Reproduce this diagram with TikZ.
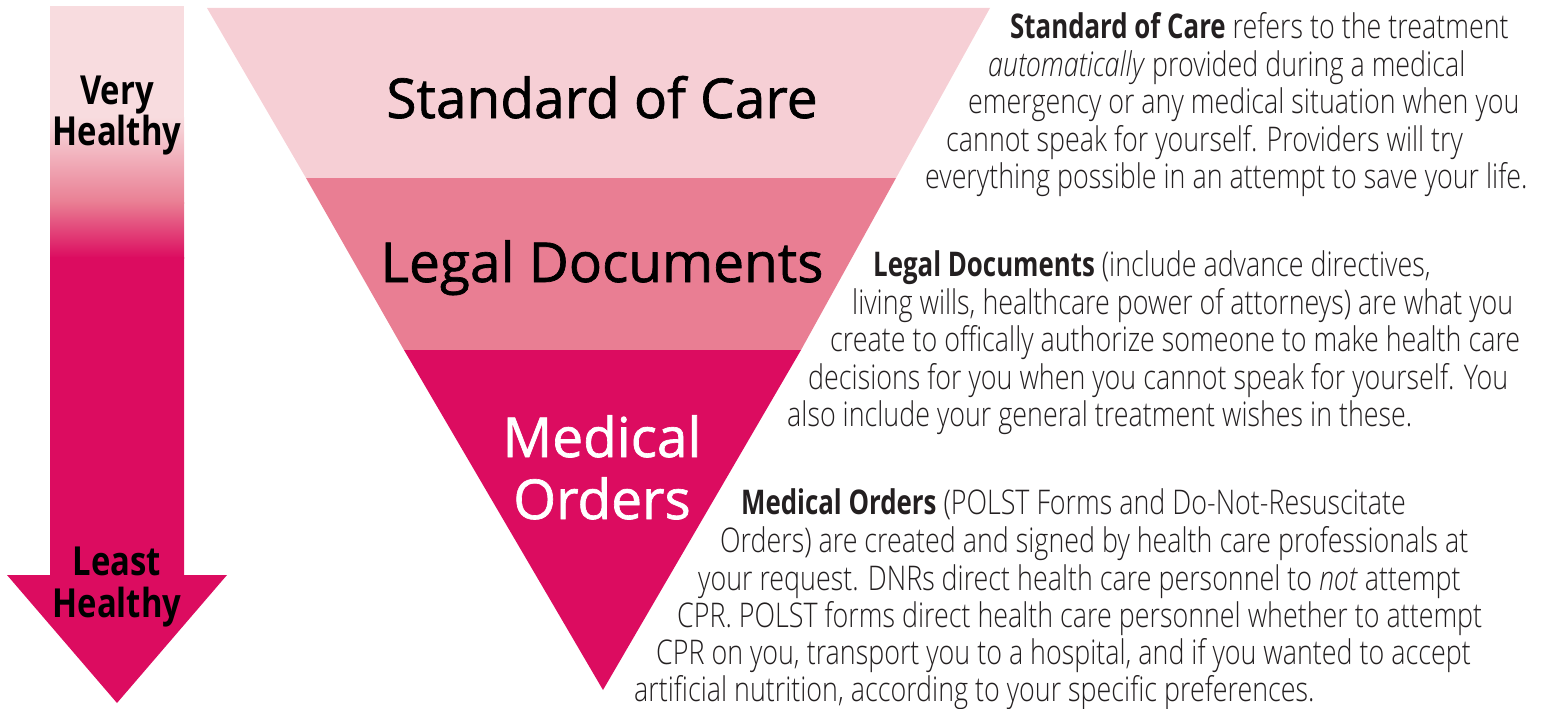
\documentclass[tikz,border=0pt]{standalone}
\usepackage{fontspec}
\setmainfont{Open Sans}
\newfontfamily\descfont[FakeStretch=0.79,BoldFont={Open Sans Bold},BoldFeatures={FakeStretch=0.76},ItalicFont={Open Sans Light Italic}]{Open Sans Light}
\newfontfamily\armfont[FakeStretch=0.82]{Open Sans}
\newfontfamily\bandfont[FakeBold=1.2]{Open Sans}
\definecolor{bandlight}{RGB}{246,207,213}
\definecolor{bandmid}{RGB}{233,126,147}
\definecolor{banddark}{RGB}{220,12,96}
\definecolor{arrowlight}{RGB}{248,220,223}
\definecolor{desctext}{RGB}{35,31,32}
\tikzset{
  descline/.style={anchor=base west,inner sep=0pt,text=desctext,font=\descfont\fontsize{34}{40}\selectfont},
  bandlabel/.style={anchor=base,inner sep=0pt,font=\bandfont\fontsize{55}{62}\selectfont},
  armlabel/.style={anchor=base,inner sep=0pt,font=\armfont\bfseries\fontsize{40}{44}\selectfont},
}
\begin{document}
\begin{tikzpicture}[x=1pt,y=-1pt]
\useasboundingbox (0,0) rectangle (1552,709);
% gradient arrow
\fill[arrowlight] (50,6) rectangle (184,118);
\shade[top color=arrowlight,bottom color=bandmid] (50,117) rectangle (184,203);
\shade[top color=bandmid,bottom color=banddark] (50,202) rectangle (184,258);
\fill[banddark] (50,257) -- (184,257) -- (184,575) -- (227,575) -- (117,703) -- (7,575) -- (50,575) -- cycle;
\node[armlabel] (very) at (117,104) {Very};
\node[armlabel] (veryh) at (117,145) {Healthy};
\node[armlabel] (least) at (117,575) {Least};
\node[armlabel] (leasth) at (117,617) {Healthy};
% funnel
\fill[bandlight] (207,8) -- (990,8) -- (896,178) -- (306,178) -- cycle;
\fill[bandmid] (306,178) -- (896,178) -- (801,350) -- (404,350) -- cycle;
\fill[banddark] (404,350) -- (801,350) -- (603,690) -- cycle;
\node[bandlabel] (soc) at (602,118) {Standard of Care};
\node[bandlabel] (legal) at (602,282) {Legal Documents};
\node[bandlabel,text=white] (med) at (602,457) {Medical};
\node[bandlabel,text=white] (ord) at (602,519) {Orders};
% descriptions
\node[descline] (s1) at (1010,39) {\textbf{Standard of Care} refers to the treatment};
\node[descline] (s2) at (988,76) {\textit{automatically} provided during a medical};
\node[descline] (s3) at (968,113) {emergency or any medical situation when you};
\node[descline] (s4) at (946,151) {cannot speak for yourself. Providers will try};
\node[descline] (s5) at (925,188) {everything possible in an attempt to save your life.};
\node[descline] (l1) at (873,276) {\textbf{Legal Documents} (include advance directives,};
\node[descline] (l2) at (852,314) {living wills, healthcare power of attorneys) are what you};
\node[descline] (l3) at (830,351) {create to offically authorize someone to make health care};
\node[descline] (l4) at (808,389) {decisions for you when you cannot speak for yourself. You};
\node[descline] (l5) at (787,426) {also include your general treatment wishes in these.};
\node[descline] (m1) at (741,514) {\textbf{Medical Orders} (POLST Forms and Do-Not-Resuscitate};
\node[descline] (m2) at (720,552) {Orders) are created and signed by health care professionals at};
\node[descline] (m3) at (698,590) {your request. DNRs direct health care personnel to \textit{not} attempt};
\node[descline] (m4) at (677,627) {CPR. POLST forms direct health care personnel whether to attempt};
\node[descline] (m5) at (656,664) {CPR on you, transport you to a hospital, and if you wanted to accept};
\node[descline] (m6) at (634,701) {artificial nutrition, according to your specific preferences.};
\end{tikzpicture}
\end{document}
